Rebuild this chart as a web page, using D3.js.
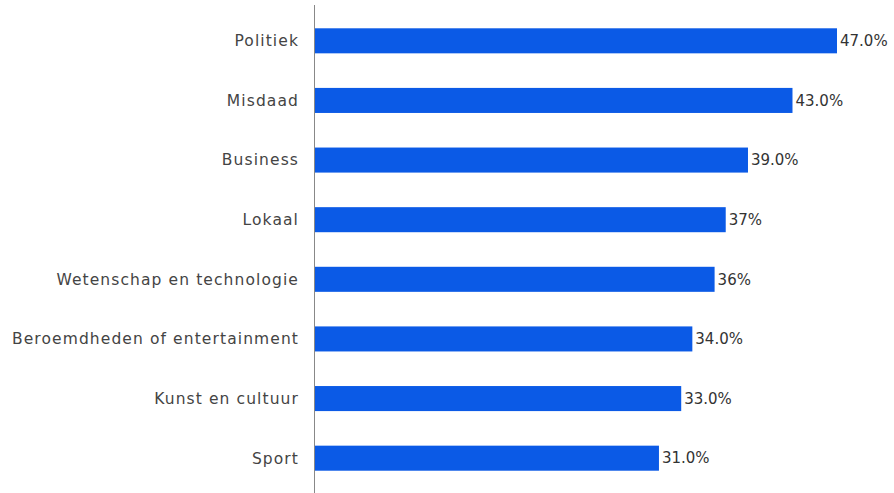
<!DOCTYPE html>
<html>
<head>
<meta charset="utf-8">
<script src="https://cdn.jsdelivr.net/npm/d3@7"></script>
<style>
  body { margin: 0; background: #fff; }
  text { font-family: "DejaVu Sans", "Noto Sans", sans-serif; }
</style>
</head>
<body>
<div id="chart"></div>
<script>

var categories = [
    'Politiek',
    'Misdaad',
    'Business',
    'Lokaal',
    'Wetenschap en technologie',
    'Beroemdheden of entertainment',
    'Kunst en cultuur',
    'Sport'
];
var values = [47, 43, 39, 37, 36, 34, 33, 31];
var valueLabels = ['47.0%', '43.0%', '39.0%', '37%', '36%', '34.0%', '33.0%', '31.0%'];

var width = 894,
    height = 493;

var axisX = 314;

var svg = d3.select("#chart").append("svg")
    .attr("width", width)
    .attr("height", height);

var x = d3.scaleLinear()
    .domain([0, 47])
    .range([axisX, 837]);

var y = d3.scaleBand()
    .domain(categories)
    .range([11, 488])
    .paddingInner(0.58)
    .paddingOuter(0.29);

var data = categories.map(function(c, i) {
    return { name: c, value: values[i], label: valueLabels[i] };
});

// bars
svg.selectAll(".bar")
    .data(data)
    .enter().append("rect")
    .attr("class", "bar")
    .attr("x", x(0) + 1)
    .attr("y", function(d) { return y(d.name); })
    .attr("width", function(d) { return x(d.value) - x(0) - 1; })
    .attr("height", y.bandwidth())
    .attr("fill", "#0b5ae6");

// category labels
svg.selectAll(".cat")
    .data(data)
    .enter().append("text")
    .attr("class", "cat")
    .attr("x", axisX - 15)
    .attr("y", function(d) { return y(d.name) + y.bandwidth() / 2; })
    .attr("dy", "0.35em")
    .attr("text-anchor", "end")
    .attr("font-size", "15.5px")
    .attr("letter-spacing", "1.1px")
    .attr("fill", "#444")
    .text(function(d) { return d.name; });

// value labels
svg.selectAll(".val")
    .data(data)
    .enter().append("text")
    .attr("class", "val")
    .attr("x", function(d) { return x(d.value) + 3; })
    .attr("y", function(d) { return y(d.name) + y.bandwidth() / 2; })
    .attr("dy", "0.35em")
    .attr("font-size", "15px")
    .attr("fill", "#333")
    .text(function(d) { return d.label; });

// axis line
svg.append("line")
    .attr("x1", axisX + 0.5)
    .attr("x2", axisX + 0.5)
    .attr("y1", 5)
    .attr("y2", height)
    .attr("stroke", "#888")
    .attr("stroke-width", 1);

</script>
</body>
</html>
